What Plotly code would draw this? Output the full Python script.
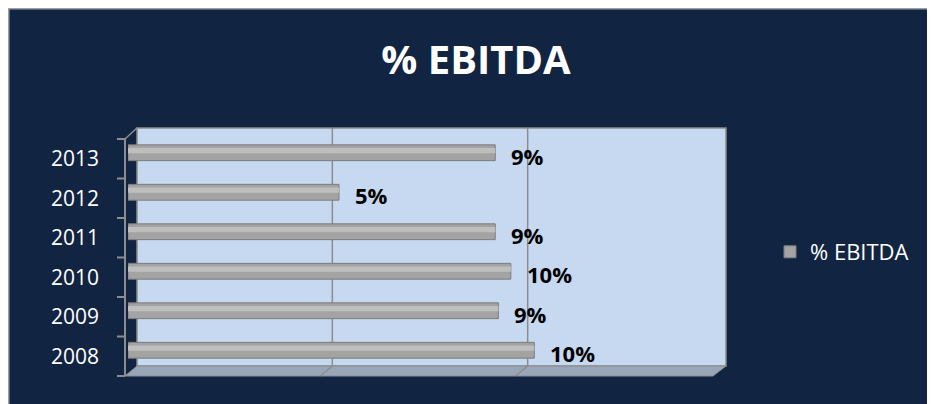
import plotly.graph_objects as go

# ---- data ----
years = ["2008", "2009", "2010", "2011", "2012", "2013"]
ebitda = [0.104, 0.0948, 0.098, 0.094, 0.054, 0.094]
series_name = "% EBITDA"
title_text = "% EBITDA"
grid_values = [0.05, 0.10]

# ---- geometry (page pixels; the figure sits 8px into the page) ----
OFF = 8
W, H = 935, 404
L, R, T, B = 128, 714, 133, 370


def fx(px):
    return (px - L) / (R - L)


def fy(py):
    return (B - py) / (B - T)


GRAY_LINE = "#8C8C8C"
WALL = "#C6D9F1"
FLOOR = "#98A6B8"
BG = "#112441"
FONT = "Open Sans"

fig = go.Figure()

# main cylinder body
fig.add_trace(go.Bar(
    y=years, x=ebitda, orientation="h", name=series_name,
    width=0.4, marker=dict(color="#A3A3A3", line=dict(color="#7C7C7C", width=1)),
    hoverinfo="x+y", showlegend=True,
))
# highlight band (shading)
fig.add_trace(go.Bar(
    y=years, x=ebitda, orientation="h", name=series_name,
    width=0.13, offset=-0.01,
    marker=dict(color="#BEBEBE", line=dict(width=0)),
    hoverinfo="skip", showlegend=False,
))

shapes = []
# back wall
shapes.append(dict(type="rect", xref="paper", yref="paper",
                   x0=fx(137), y0=fy(366), x1=fx(726), y1=fy(128),
                   fillcolor=WALL, line=dict(color=GRAY_LINE, width=1.5), layer="below"))
# floor
shapes.append(dict(type="path", xref="paper", yref="paper",
                   path=f"M {fx(137)},{fy(366)} L {fx(726)},{fy(366)} L {fx(713)},{fy(376)} L {fx(125)},{fy(376)} Z",
                   fillcolor=FLOOR, line=dict(color=GRAY_LINE, width=1), layer="below"))
# gridlines on back wall + floor
for v in grid_values:
    shapes.append(dict(type="line", xref="x", yref="paper", xsizemode="pixel", xanchor=v,
                       x0=9, x1=9, y0=fy(366), y1=fy(128),
                       line=dict(color=GRAY_LINE, width=1.5), layer="below"))
    shapes.append(dict(type="line", xref="x", yref="paper", xsizemode="pixel", xanchor=v,
                       x0=9, x1=-3, y0=fy(366), y1=fy(376),
                       line=dict(color=GRAY_LINE, width=1.5), layer="below"))
# left axis
shapes.append(dict(type="line", xref="paper", yref="paper", x0=fx(125), x1=fx(125),
                   y0=fy(139), y1=fy(376), line=dict(color=GRAY_LINE, width=2), layer="below"))
shapes.append(dict(type="line", xref="paper", yref="paper", x0=fx(125), x1=fx(137),
                   y0=fy(139), y1=fy(128), line=dict(color=GRAY_LINE, width=1.5), layer="below"))
step = (376 - 139) / len(years)
for i in range(len(years) + 1):
    yy = 139 + i * step
    shapes.append(dict(type="line", xref="paper", yref="paper", x0=fx(117), x1=fx(125),
                       y0=fy(yy), y1=fy(yy), line=dict(color=GRAY_LINE, width=2), layer="below"))
# outer border (chart frame)
shapes.append(dict(type="rect", xref="paper", yref="paper",
                   x0=fx(OFF), y0=fy(OFF + H), x1=fx(OFF + W), y1=fy(OFF),
                   line=dict(color="#9A9FA6", width=3), layer="below"))

annotations = []
for i, (y, v) in enumerate(zip(years, ebitda)):
    annotations.append(dict(x=v, y=i, xref="x", yref="y", text=f"<b>{round(v * 100)}%</b>",
                            showarrow=False, xanchor="left", yanchor="middle",
                            xshift=14, yshift=-3,
                            font=dict(family=FONT, size=22, color="#000000")))

fig.update_layout(
    width=W, height=H,
    paper_bgcolor=BG, plot_bgcolor="rgba(0,0,0,0)",
    margin=dict(l=L - OFF, r=W - (R - OFF), t=T - OFF, b=H - (B - OFF), pad=0),
    barmode="overlay",
    title=dict(text=f"<b>{title_text}</b>", x=(476 - OFF) / W, xref="container", xanchor="center",
               y=1 - (60 - OFF) / H, yref="container", yanchor="middle",
               font=dict(family=FONT, size=40, color="#FFFFFF")),
    xaxis=dict(range=[0, 0.15], autorange=False, showgrid=False, zeroline=False,
               showticklabels=False, showline=False, ticks=""),
    yaxis=dict(type="category", categoryorder="array", categoryarray=years,
               range=[-0.5, len(years) - 0.5], autorange=False,
               showgrid=False, zeroline=False, showline=False, ticks="",
               ticklabelstandoff=28, ticklabelshift=6,
               tickfont=dict(family=FONT, size=21, color="#FFFFFF")),
    legend=dict(x=fx(770), xanchor="left", y=fy(252), yanchor="middle",
                bgcolor="rgba(0,0,0,0)", font=dict(family=FONT, size=22, color="#FFFFFF")),
    shapes=shapes,
    annotations=annotations,
    showlegend=True,
)

fig.write_html("out.html")
